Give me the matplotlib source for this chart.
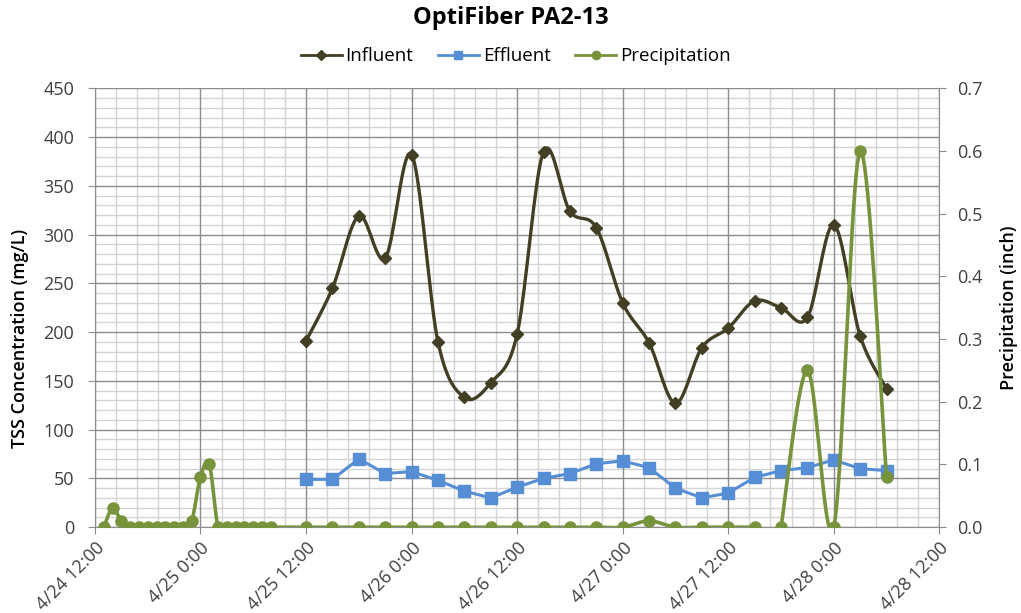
import numpy as np
import pandas as pd
import matplotlib
matplotlib.use("Agg")
import matplotlib.pyplot as plt
import matplotlib.dates as mdates
from matplotlib.ticker import MultipleLocator, FormatStrFormatter

plt.rcParams['font.family'] = ['Open Sans', 'DejaVu Sans']

# sample times (every 3 h) for influent / effluent
tss_times = pd.date_range('2013-04-25 12:00', '2013-04-28 06:00', freq='3h')
influent = [191, 245, 319, 276, 382, 190, 133, 148, 198, 385, 324, 307,
            230, 189, 127, 184, 204, 232, 225, 215, 310, 196, 142]
effluent = [49, 49, 70, 55, 57, 48, 37, 30, 41, 50, 55, 65,
            68, 61, 40, 30, 35, 51, 58, 61, 69, 60, 58]

# precipitation: hourly at first, then 3-hourly (one blank reading on 4/27)
precip_times = (list(pd.date_range('2013-04-24 13:00', '2013-04-25 08:00', freq='1h'))
                + list(pd.date_range('2013-04-25 12:00', '2013-04-27 15:00', freq='3h'))
                + [pd.Timestamp('2013-04-27 16:30')]
                + list(pd.date_range('2013-04-27 18:00', '2013-04-28 06:00', freq='3h')))
precip = ([0, 0.03, 0.01, 0, 0, 0, 0, 0, 0, 0, 0.01, 0.08, 0.1, 0, 0, 0, 0, 0, 0, 0]
          + [0, 0, 0, 0, 0, 0, 0, 0, 0, 0, 0, 0, 0, 0.01, 0, 0, 0, 0]
          + [np.nan]
          + [0, 0.25, 0, 0.6, 0.08])


def smooth(x, y, n=20):
    # Excel-style smoothed line (Catmull-Rom bezier), split at blanks
    x = np.asarray(x, float)
    y = np.asarray(y, float)
    xs, ys = [], []
    idx = np.where(~np.isnan(y))[0]
    groups = np.split(idx, np.where(np.diff(idx) > 1)[0] + 1)
    for g in groups:
        gx, gy = x[g], y[g]
        if len(g) < 2:
            continue
        for i in range(len(g) - 1):
            p0 = np.array([gx[max(i - 1, 0)], gy[max(i - 1, 0)]])
            p1 = np.array([gx[i], gy[i]])
            p2 = np.array([gx[i + 1], gy[i + 1]])
            p3 = np.array([gx[min(i + 2, len(g) - 1)], gy[min(i + 2, len(g) - 1)]])
            c1 = p1 + (p2 - p0) / 6
            c2 = p2 - (p3 - p1) / 6
            t = np.linspace(0, 1, n)[:, None]
            pts = ((1 - t) ** 3 * p1 + 3 * (1 - t) ** 2 * t * c1
                   + 3 * (1 - t) * t ** 2 * c2 + t ** 3 * p2)
            xs.extend(pts[:, 0])
            ys.extend(pts[:, 1])
        xs.append(np.nan)
        ys.append(np.nan)
    return np.array(xs), np.array(ys)


c_inf = '#433f25'
c_eff = '#558ed5'
c_pre = '#77933c'
grid_major = '#8c8c8c'
grid_minor = '#d4d4d4'

fig = plt.figure(figsize=(10.21, 6.13), dpi=100)
ax = fig.add_axes([0.093, 0.140, 0.827, 0.716])
ax2 = ax.twinx()

tx = mdates.date2num(tss_times)
px = mdates.date2num(precip_times)

x0 = mdates.date2num(pd.Timestamp('2013-04-24 12:00'))
x1 = mdates.date2num(pd.Timestamp('2013-04-28 12:00'))
ax.set_xlim(x0, x1)
ax.set_ylim(0, 450)
ax2.set_ylim(0, 0.7)

ax.xaxis.set_major_locator(MultipleLocator(0.5))
ax.xaxis.set_minor_locator(MultipleLocator(0.1))
ax.xaxis.set_major_formatter(
    plt.FuncFormatter(lambda v, p: '{d.month}/{d.day} {d.hour}:{d.minute:02d}'.format(
        d=mdates.num2date(v + 1e-6))))
ax.yaxis.set_major_locator(MultipleLocator(50))
ax.yaxis.set_minor_locator(MultipleLocator(10))
ax2.yaxis.set_major_locator(MultipleLocator(0.1))
ax2.yaxis.set_major_formatter(FormatStrFormatter('%.1f'))

# light minor grid, darker major grid on top of it
ax.grid(which='minor', color=grid_minor, lw=1.0)
ax.grid(which='major', visible=False)
ax.set_axisbelow(True)
ax.vlines(ax.get_xticks(), 0, 450, color=grid_major, lw=1.0, zorder=1)
ax.hlines(ax.get_yticks(), x0, x1, color=grid_major, lw=1.0, zorder=1)

sx, sy = smooth(tx, influent)
ax.plot(sx, sy, color=c_inf, lw=2.4, zorder=3)
ax.plot(tx, influent, ls='none', marker='D', ms=6, color=c_inf, zorder=4)
ax.plot(tx, effluent, color=c_eff, lw=2.2, marker='s', ms=8, zorder=3)

sx, sy = smooth(px, precip)
ax2.plot(sx, sy, color=c_pre, lw=2.6, zorder=3)
ax2.plot(px, precip, ls='none', marker='o', ms=8, color=c_pre, zorder=4)

for a in (ax, ax2):
    for s in a.spines.values():
        s.set_visible(False)
ax.spines['left'].set_visible(True)
ax.spines['left'].set_color(grid_major)
ax.spines['bottom'].set_visible(True)
ax.spines['bottom'].set_color(grid_major)
ax2.spines['right'].set_visible(True)
ax2.spines['right'].set_color(grid_major)

ax.tick_params(axis='both', which='major', labelsize=13, colors=grid_major,
               labelcolor='#404040', length=5)
ax.tick_params(axis='y', which='major', pad=10)
ax.tick_params(axis='both', which='minor', length=0)
ax2.tick_params(axis='y', labelsize=13, colors=grid_major,
                labelcolor='#404040', length=5, pad=8)
plt.setp(ax.get_xticklabels(), rotation=45, ha='right', rotation_mode='anchor')

ax.set_ylabel('TSS Concentration (mg/L)', fontsize=13, fontweight='semibold')
ax.yaxis.set_label_coords(-0.078, 0.43)
ax2.set_ylabel('Precipitation (inch)', fontsize=13, fontweight='semibold')
ax2.yaxis.set_label_coords(1.072, 0.5)

fig.suptitle('OptiFiber PA2-13', x=0.5, y=0.99, fontsize=17, fontweight='bold')

handles = [
    plt.Line2D([], [], color=c_inf, lw=2, marker='D', ms=5),
    plt.Line2D([], [], color=c_eff, lw=2, marker='s', ms=6),
    plt.Line2D([], [], color=c_pre, lw=2, marker='o', ms=6),
]
fig.legend(handles, ['Influent', 'Effluent', 'Precipitation'], loc='center',
           bbox_to_anchor=(0.505, 0.908), ncol=3, frameon=False, fontsize=13.5,
           handlelength=2.2, handletextpad=0.2, columnspacing=1.3)

fig.savefig('out.png', dpi=100)
